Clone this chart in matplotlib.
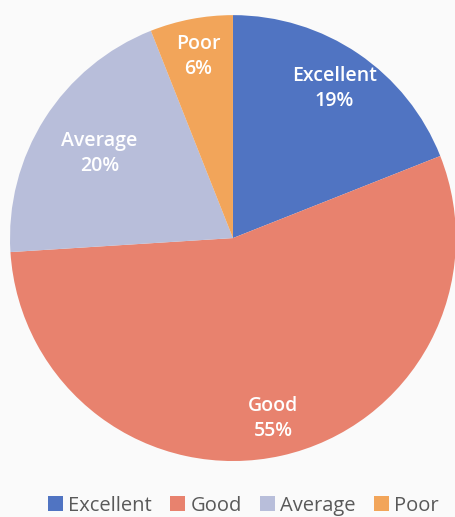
import matplotlib.pyplot as plt
import numpy as np

categories = ['Excellent', 'Good', 'Average', 'Poor']
shares = [19, 55, 20, 6]
colors = ['#5074C2', '#E8826E', '#B8BEDA', '#F2A55A']

plt.rcParams['font.family'] = ['Open Sans', 'DejaVu Sans']

fig = plt.figure(figsize=(4.55, 5.17), dpi=100)
fig.patch.set_facecolor('#FAFAFA')
ax = fig.add_axes([0.022, 0.108, 0.980, 0.863])

wedges, texts = ax.pie(
    shares, colors=colors, startangle=90, counterclock=False,
    wedgeprops=dict(linewidth=0))

radii = [0.81, 0.83, 0.71, 0.83]
for w, name, val, r in zip(wedges, categories, shares, radii):
    ang = np.deg2rad((w.theta1 + w.theta2) / 2)
    ax.text(r * np.cos(ang), r * np.sin(ang), f'{name}\n{val}%',
            ha='center', va='center', color='white', fontsize=14,
            fontweight='semibold', linespacing=1.3)

ax.set_xlim(-1, 1)
ax.set_ylim(-1, 1)
ax.set_aspect('equal')
ax.axis('off')

fig.legend(wedges, categories, loc='center', bbox_to_anchor=(0.535, 0.022),
           ncol=4, frameon=False, fontsize=14.5, handlelength=0.75,
           handleheight=0.75, handletextpad=0.25, columnspacing=0.9,
           labelcolor='#595959')

fig.savefig('out.png', dpi=100, facecolor=fig.get_facecolor())
